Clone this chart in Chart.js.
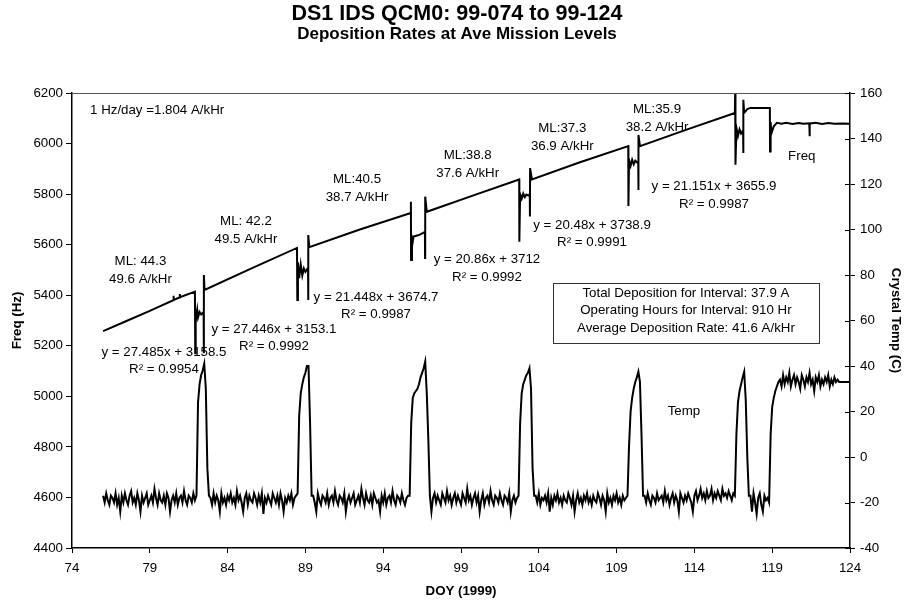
<!DOCTYPE html>
<html>
<head>
<meta charset="utf-8">
<script src="https://cdn.jsdelivr.net/npm/chart.js@4.4.1/dist/chart.umd.min.js"></script>
<style>
  html, body { margin: 0; padding: 0; background: #fff; }
  #wrap { width: 905px; height: 602px; }
</style>
</head>
<body>
<div id="wrap"><canvas id="qcm-chart" width="905" height="602"></canvas></div>
<script>
// QCM frequency trace (day of year, Hz)
const freqDay = [
  76.0, 77.5, 79.0, 80.5, 80.52, 80.54, 80.9, 80.92, 80.94, 81.9,
  81.92, 81.95, 82.0, 82.05, 82.1, 82.2, 82.3, 82.4, 82.46, 82.47, 82.48, 82.52,
  85.5, 88.46,
  88.48, 88.52, 88.6, 88.7, 88.8, 88.9, 89.0, 89.1, 89.17, 89.18, 89.19, 89.25,
  92.5, 95.77,
  95.78, 95.79, 95.85, 95.9, 95.95, 96.3, 96.6, 96.68, 96.69, 96.7, 96.8,
  99.8, 102.74,
  102.75, 102.8, 102.9, 103.0, 103.1, 103.2, 103.35, 103.42, 103.43, 103.44, 103.56,
  106.6, 109.75,
  109.76, 109.8, 109.9, 110.0, 110.1, 110.2, 110.35, 110.39, 110.4, 110.41, 110.5,
  113.5, 116.6,
  116.62, 116.64, 116.7, 116.8, 116.9, 117.0, 117.1, 117.13, 117.14, 117.15, 117.2,
  117.4, 117.6, 118.85, 118.86, 118.9, 118.95, 119.1, 119.3, 119.6, 119.9, 120.3,
  120.7, 121.0, 121.38, 121.4, 121.42, 121.8, 122.2, 122.6, 123.0, 123.5, 124.0
];
const freqHz = [
  5258, 5298, 5338, 5380, 5398, 5381, 5391, 5405, 5392, 5414,
  5170, 5345, 5318, 5342, 5312, 5334, 5324, 5330, 5322, 5170, 5480, 5421,
  5505, 5587,
  5381, 5530, 5468, 5522, 5478, 5506, 5492, 5502, 5495, 5381, 5638, 5590,
  5660, 5725,
  5770, 5539, 5626, 5612, 5632, 5638, 5648, 5651, 5547, 5790, 5730,
  5795, 5858,
  5612, 5800, 5782, 5802, 5788, 5798, 5794, 5800, 5711, 5903, 5858,
  5925, 5990,
  5753, 5935, 5912, 5936, 5918, 5932, 5924, 5930, 5816, 6034, 5990,
  6055, 6121,
  6200, 5916, 6062, 6030, 6056, 6040, 6050, 6045, 5963, 6173, 6121,
  6136, 6141, 6141, 5969, 6085, 6040, 6068, 6082, 6078, 6082, 6077,
  6081, 6078, 6080, 6029, 6079, 6082, 6077, 6081, 6078, 6079, 6078
];

// crystal temperature (C), one reading every 0.1 day from day 76.0 to 124.0
const tempStartDay = 76;
const tempStepDay = 0.1;
const tempC = [
  // 76.0 - 81.9
  -17,-20,-16,-19,-21,-17,-18,-20,-16,-21,
  -18,-24,-17,-20,-16,-19,-21,-17,-15,-20,
  -18,-21,-16,-19,-24,-17,-20,-18,-16,-21,
  -19,-17,-20,-14,-18,-21,-16,-19,-20,-17,
  -21,-16,-18,-24,-19,-17,-20,-16,-21,-18,
  -17,-20,-15,-19,-21,-17,-18,-20,-16,-19,
  // 82.0 - 82.8
  -17, 24, 32, 36, 38, 41, 30, -5, -17,
  // 82.9 - 88.4
  -18,-21,-16,-20,-17,-19,-24,-16,-20,-18,
  -21,-17,-19,-16,-20,-18,-21,-15,-19,-17,
  -20,-24,-18,-16,-21,-17,-19,-20,-16,-18,
  -21,-17,-20,-16,-25,-18,-20,-17,-19,-21,
  -16,-18,-20,-17,-21,-16,-19,-24,-18,-20,
  -17,-19,-16,-21,-18,-17,
  // 88.5 - 89.4
  -16, 18, 28, 32, 35, 37, 40, 40, 15, -17,
  // 89.5 - 95.6
  -17,-20,-24,-16,-19,-21,-17,-18,-20,-16,
  -21,-18,-17,-20,-15,-19,-21,-17,-18,-20,
  -16,-24,-19,-17,-20,-18,-16,-21,-19,-17,
  -20,-14,-18,-21,-16,-19,-20,-17,-21,-16,
  -18,-20,-19,-24,-17,-20,-16,-21,-18,-17,
  -20,-15,-19,-21,-17,-18,-20,-16,-19,-21,
  -18,-17,
  // 95.7 - 97.0
  -17, 15, 26, 28, 29, 30, 32, 35, 37, 39, 42, 28, 8, -17,
  // 97.1 - 102.6
  -24,-18,-16,-20,-17,-19,-21,-16,-18,-20,
  -15,-19,-17,-21,-18,-16,-20,-17,-19,-21,
  -16,-18,-20,-14,-19,-17,-21,-18,-16,-20,
  -17,-24,-19,-16,-21,-18,-17,-20,-15,-19,
  -21,-17,-18,-20,-16,-19,-21,-17,-18,-20,
  -16,-24,-19,-17,-20,-18,
  // 102.7 - 103.7
  -17, 15, 28, 32, 34, 36, 37, 39, 30, -5, -17,
  // 103.8 - 109.6
  -17,-20,-16,-21,-18,-19,-17,-20,-16,-24,
  -18,-21,-17,-19,-16,-20,-18,-21,-17,-19,
  -20,-16,-18,-21,-17,-24,-19,-16,-20,-18,
  -21,-17,-19,-16,-20,-18,-21,-17,-19,-20,
  -16,-18,-21,-17,-19,-24,-16,-20,-18,-21,
  -17,-19,-16,-20,-18,-21,-17,-19,-18,
  // 109.7 - 110.7
  -17, 5, 20, 26, 30, 33, 35, 37.5, 33, 10, -17,
  // 110.8 - 116.5
  -17,-20,-16,-19,-21,-17,-18,-20,-16,-19,
  -18,-17,-20,-15,-19,-17,-21,-18,-16,-20,
  -17,-19,-24,-16,-18,-20,-17,-19,-16,-18,
  -20,-24,-17,-15,-19,-17,-14,-18,-16,-19,
  -15,-18,-17,-14,-19,-16,-18,-15,-17,-19,
  -14,-17,-16,-18,-15,-17,-19,-16,
  // 116.6 - 117.5
  -17, 10, 24, 29, 32, 35, 37.5, 25, 0, -17,
  // 117.6 - 118.7
  -17,-24,-16,-20,-25,-18,-16,-21,-24,-17,-19,-18,
  // 118.8 - 119.4
  -20, 10, 22, 26, 29, 31, 33,
  // 119.5 - 123.2
  34, 31, 36, 32, 35, 33, 37, 31, 34, 36,
  32, 35, 33, 30, 36, 34, 31, 35, 33, 37,
  32, 34, 29, 35, 33, 36, 31, 34, 32, 35,
  33, 36, 31, 34, 32, 35, 33, 34,
  // 123.3 - 124.0
  33, 33, 33, 33, 33, 33, 33, 33
];

const dayTicks = [74, 79, 84, 89, 94, 99, 104, 109, 114, 119, 124];
const freqTicks = [4400, 4600, 4800, 5000, 5200, 5400, 5600, 5800, 6000, 6200];
const tempTicks = [-40, -20, 0, 20, 40, 60, 80, 100, 120, 140, 160];

const chartTitle = 'DS1 IDS QCM0: 99-074 to 99-124';
const chartSubtitle = 'Deposition Rates at Ave Mission Levels';
const summaryLines = [
  'Total Deposition for Interval: 37.9 A',
  'Operating Hours for Interval: 910 Hr',
  'Average Deposition Rate: 41.6 A/kHr'
];

// text placed in data coordinates (day, Hz)
const notes = [
  { lines: ['1 Hz/day =1.804 A/kHr'], day: 75.16, hz: 6133, align: 'left' },
  { lines: ['ML: 44.3', '49.6 A/kHr'], day: 78.4, hz: 5498 },
  { lines: ['ML: 42.2', '49.5 A/kHr'], day: 85.18, hz: 5657 },
  { lines: ['ML:40.5', '38.7 A/kHr'], day: 92.32, hz: 5822 },
  { lines: ['ML:38.8', '37.6 A/kHr'], day: 99.43, hz: 5918 },
  { lines: ['ML:37.3', '36.9 A/kHr'], day: 105.51, hz: 6024 },
  { lines: ['ML:35.9', '38.2 A/kHr'], day: 111.6, hz: 6099 },
  { lines: ['y = 27.485x + 3158.5', 'R\u00b2 = 0.9954'], day: 79.91, hz: 5140 },
  { lines: ['y = 27.446x + 3153.1', 'R\u00b2 = 0.9992'], day: 86.98, hz: 5231 },
  { lines: ['y = 21.448x + 3674.7', 'R\u00b2 = 0.9987'], day: 93.54, hz: 5359 },
  { lines: ['y = 20.86x + 3712', 'R\u00b2 = 0.9992'], day: 100.67, hz: 5506 },
  { lines: ['y = 20.48x + 3738.9', 'R\u00b2 = 0.9991'], day: 107.42, hz: 5642 },
  { lines: ['y = 21.151x + 3655.9', 'R\u00b2 = 0.9987'], day: 115.26, hz: 5796 },
  { lines: ['Freq'], day: 120.9, hz: 5951 },
  { lines: ['Temp'], day: 113.33, hz: 4942 }
];
const summaryBox = { day0: 104.91, day1: 122.0, hz0: 5448, hz1: 5211 };

const FONT = "'Liberation Sans', Arial, sans-serif";

const overlay = {
  id: 'overlay',
  afterDraw(chart) {
    const { ctx, chartArea: area, scales } = chart;
    const px = d => scales.x.getPixelForValue(d);
    const py = h => scales.y.getPixelForValue(h);
    ctx.save();

    // top edge of the plot frame
    ctx.strokeStyle = '#555';
    ctx.lineWidth = 1;
    ctx.beginPath();
    ctx.moveTo(area.left, Math.round(area.top) + 0.5);
    ctx.lineTo(area.right, Math.round(area.top) + 0.5);
    ctx.stroke();

    // right axis ticks cross the axis line
    ctx.strokeStyle = '#000';
    scales.y1.ticks.forEach(t => {
      const y = Math.round(scales.y1.getPixelForValue(t.value)) + 0.5;
      ctx.beginPath();
      ctx.moveTo(area.right - 5, y);
      ctx.lineTo(area.right, y);
      ctx.stroke();
    });

    // titles
    ctx.fillStyle = '#000';
    ctx.textAlign = 'center';
    ctx.textBaseline = 'alphabetic';
    ctx.font = 'bold 21.5px ' + FONT;
    ctx.fillText(chartTitle, 457, 20);
    ctx.font = 'bold 17px ' + FONT;
    ctx.fillText(chartSubtitle, 457, 39);

    // in-plot notes
    ctx.font = '13.3px ' + FONT;
    ctx.textBaseline = 'middle';
    const lh = 17.5;
    notes.forEach(n => {
      ctx.textAlign = n.align || 'center';
      const x = px(n.day);
      const y0 = py(n.hz) - (n.lines.length - 1) * lh / 2;
      n.lines.forEach((s, i) => ctx.fillText(s, x, y0 + i * lh));
    });

    // summary box
    const bx0 = px(summaryBox.day0), bx1 = px(summaryBox.day1);
    const by0 = py(summaryBox.hz0), by1 = py(summaryBox.hz1);
    ctx.fillStyle = '#fff';
    ctx.fillRect(bx0, by0, bx1 - bx0, by1 - by0);
    ctx.strokeStyle = '#333';
    ctx.lineWidth = 1;
    ctx.strokeRect(Math.round(bx0) + 0.5, Math.round(by0) + 0.5, Math.round(bx1 - bx0), Math.round(by1 - by0));
    ctx.fillStyle = '#000';
    ctx.textAlign = 'center';
    summaryLines.forEach((s, i) => ctx.fillText(s, (bx0 + bx1) / 2, by0 + 10 + i * lh));

    ctx.restore();
  }
};

Chart.defaults.font.family = FONT;
Chart.defaults.color = '#000';

const fixTicks = list => scale => { scale.ticks = list.map(v => ({ value: v })); };
const plainLabel = v => String(v);

document.addEventListener('DOMContentLoaded', function () {
  const canvas = document.getElementById('qcm-chart');
  new Chart(canvas, {
    type: 'line',
    data: {
      datasets: [{
        label: 'Freq',
        data: freqDay.map((d, i) => ({ x: d, y: freqHz[i] })),
        yAxisID: 'y',
        borderColor: '#000',
        borderWidth: 2,
        pointRadius: 0,
        tension: 0
      },
      {
        label: 'Temp',
        data: tempC.map((v, i) => ({ x: +(tempStartDay + i * tempStepDay).toFixed(1), y: v })),
        yAxisID: 'y1',
        borderColor: '#000',
        borderWidth: 2,
        pointRadius: 0,
        tension: 0
      }]
    },
    options: {
      responsive: false,
      animation: false,
      layout: { padding: { top: 93, left: 0, right: 0, bottom: 0 } },
      plugins: {
        legend: { display: false },
        title: { display: false },
        tooltip: { enabled: false }
      },
      scales: {
        x: {
          type: 'linear',
          min: 74,
          max: 124,
          afterBuildTicks: fixTicks(dayTicks),
          afterFit: s => { s.height = 54; },
          grid: { drawOnChartArea: false, drawTicks: true, tickLength: 5, color: '#000' },
          border: { display: true, color: '#000', width: 1.5 },
          ticks: { font: { size: 13.3 }, padding: 7, maxRotation: 0, callback: plainLabel },
          title: { display: true, text: 'DOY (1999)', font: { size: 13.3, weight: 'bold' }, padding: { top: 0, bottom: 3 } }
        },
        y: {
          type: 'linear',
          position: 'left',
          min: 4400,
          max: 6200,
          afterBuildTicks: fixTicks(freqTicks),
          afterFit: s => { s.width = 72; },
          grid: { drawOnChartArea: false, drawTicks: true, tickLength: 6, color: '#000' },
          border: { display: true, color: '#000', width: 1.5 },
          ticks: { font: { size: 13.3 }, padding: 3, callback: plainLabel },
          title: { display: true, text: 'Freq (Hz)', font: { size: 13.3, weight: 'bold' }, padding: { top: 9, bottom: 0 } }
        },
        y1: {
          type: 'linear',
          position: 'right',
          min: -40,
          max: 160,
          afterBuildTicks: fixTicks(tempTicks),
          afterFit: s => { s.width = 55; },
          grid: { drawOnChartArea: false, drawTicks: true, tickLength: 5, color: '#000' },
          border: { display: true, color: '#000', width: 1.5 },
          ticks: { font: { size: 13.3 }, padding: 5, callback: plainLabel },
          title: { display: true, text: 'Crystal Temp (C)', font: { size: 13.3, weight: 'bold' }, padding: { top: 1, bottom: 0 } }
        }
      }
    },
    plugins: [overlay]
  });
});
</script>
</body>
</html>
